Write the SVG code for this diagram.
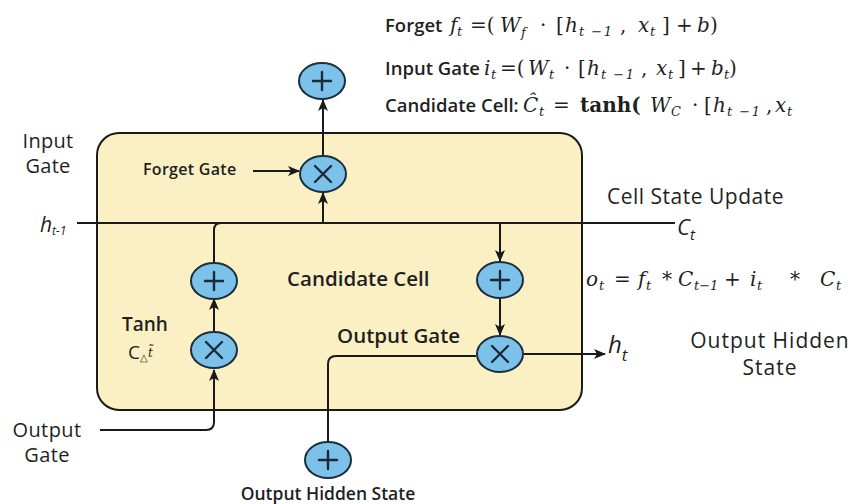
<svg xmlns="http://www.w3.org/2000/svg" width="862" height="504" viewBox="0 0 862 504">
  <defs>
    <marker id="arr" viewBox="0 0 12 10" refX="11" refY="5" markerWidth="12" markerHeight="10" markerUnits="userSpaceOnUse" orient="auto">
      <path d="M0,0 L12,5 L0,10 L3,5 Z" fill="#1a1a1a"/>
    </marker>
  </defs>
  <style>
    .lbl { font-family: "Open Sans", "Noto Sans", sans-serif; fill: #1f1f1f; }
    .sb { font-weight: 600; }
    .ital { font-family: "Open Sans", "Noto Sans", sans-serif; font-style: italic; fill: #1f1f1f; }
    .math { font-family: "DejaVu Serif", "Liberation Serif", serif; font-size: 20px; fill: #1f1f1f; }
    .it { font-style: italic; }
    .sub { font-size: 13px; font-style: italic; }
    .wire { fill: none; stroke: #1a1a1a; stroke-width: 2; }
    .op { fill: #7cc1ea; stroke: #1c2f3c; stroke-width: 2; }
    .sym { fill: none; stroke: #1a2a36; stroke-width: 2.4; stroke-linecap: round; }
  </style>

  <rect width="862" height="504" fill="#ffffff"/>

  <!-- LSTM cell body -->
  <g id="cell">
    <rect x="97" y="133" width="485" height="277" rx="22" fill="#fbf0c3" stroke="#1a1a1a" stroke-width="2"/>
  </g>

  <!-- connectors -->
  <g id="connectors">
    <!-- cell state / hidden line -->
    <path class="wire" d="M77,223 H675"/>
    <!-- forget product up to top sum -->
    <path class="wire" d="M323,156 V100" marker-end="url(#arr)"/>
    <!-- line into forget product from below -->
    <path class="wire" d="M323,223 V193" marker-end="url(#arr)"/>
    <!-- forget gate input arrow -->
    <path class="wire" d="M253,171 H299" marker-end="url(#arr)"/>
    <!-- left column: sum joins the line -->
    <path class="wire" d="M214,262 V230 Q214,223 221,223"/>
    <!-- tanh product to sum -->
    <path class="wire" d="M214,332 V299" marker-end="url(#arr)"/>
    <!-- output gate input from left -->
    <path class="wire" d="M100,430 H206 Q214,430 214,422 V370" marker-end="url(#arr)"/>
    <!-- right column -->
    <path class="wire" d="M500,223 V261" marker-end="url(#arr)"/>
    <path class="wire" d="M500,299 V335" marker-end="url(#arr)"/>
    <!-- bottom sum up and into output product -->
    <path class="wire" d="M328,442 V364 Q328,356 336,356 H476"/>
    <!-- output product to h_t -->
    <path class="wire" d="M524,354 H605" marker-end="url(#arr)"/>
  </g>

  <!-- operation nodes -->
  <g id="sum-top">
    <ellipse class="op" cx="322" cy="81" rx="23" ry="18"/>
    <path class="sym" d="M313,81 H331 M322,72 V90"/>
  </g>
  <g id="mul-forget">
    <ellipse class="op" cx="323" cy="174" rx="23" ry="18"/>
    <path class="sym" d="M315,166 L331,182 M331,166 L315,182"/>
  </g>
  <g id="sum-left">
    <ellipse class="op" cx="214" cy="281" rx="23" ry="18"/>
    <path class="sym" d="M205,281 H223 M214,272 V290"/>
  </g>
  <g id="mul-tanh">
    <ellipse class="op" cx="214" cy="350" rx="23" ry="18"/>
    <path class="sym" d="M206,342 L222,358 M222,342 L206,358"/>
  </g>
  <g id="sum-right">
    <ellipse class="op" cx="500" cy="280" rx="23" ry="18"/>
    <path class="sym" d="M491,280 H509 M500,271 V289"/>
  </g>
  <g id="mul-output">
    <ellipse class="op" cx="500" cy="354" rx="23" ry="18"/>
    <path class="sym" d="M492,346 L508,362 M508,346 L492,362"/>
  </g>
  <g id="sum-bottom">
    <ellipse class="op" cx="328" cy="460" rx="23" ry="18"/>
    <path class="sym" d="M319,460 H337 M328,451 V469"/>
  </g>

  <!-- labels inside the cell -->
  <g id="label-forget-gate">
    <text class="lbl sb" x="143" y="175" font-size="16" letter-spacing="0.3">Forget Gate</text>
  </g>
  <g id="label-candidate">
    <text class="lbl sb" x="287" y="286" font-size="20.5">Candidate Cell</text>
  </g>
  <g id="label-output-gate-inner">
    <text class="lbl sb" x="337" y="343" font-size="20.5">Output Gate</text>
  </g>
  <g id="label-tanh">
    <text class="lbl sb" x="122" y="331" font-size="19">Tanh</text>
    <text class="lbl" x="128" y="359" font-size="19" fill="#4a4a4a">C<tspan font-size="10" dy="2">△</tspan><tspan font-family="DejaVu Serif, serif" font-style="italic" font-size="12" dy="-4">t̃</tspan></text>
  </g>

  <!-- labels outside the cell -->
  <g id="label-input-gate">
    <text class="lbl" x="48" y="148" font-size="20" letter-spacing="0.3" text-anchor="middle">Input</text>
    <text class="lbl" x="48" y="173" font-size="20" letter-spacing="0.3" text-anchor="middle">Gate</text>
  </g>
  <g id="label-h-prev">
    <text class="ital" x="40" y="232" font-size="21">h<tspan font-size="12" dy="3">t-1</tspan></text>
  </g>
  <g id="label-output-gate">
    <text class="lbl" x="47" y="437" font-size="20" letter-spacing="0.4" text-anchor="middle">Output</text>
    <text class="lbl" x="47" y="462" font-size="20" letter-spacing="0.4" text-anchor="middle">Gate</text>
  </g>
  <g id="label-bottom">
    <text class="lbl sb" x="328" y="500" font-size="17.5" text-anchor="middle">Output Hidden State</text>
  </g>
  <g id="label-cell-state">
    <text class="lbl" x="607" y="204" font-size="21" letter-spacing="0.5">Cell State Update</text>
    <text class="ital" x="677" y="235" font-size="22">C<tspan font-size="15" dy="5">t</tspan></text>
  </g>
  <g id="label-ot">
    <text class="math">
      <tspan class="it" x="586" y="286">o</tspan><tspan class="sub" x="599" y="290">t</tspan>
      <tspan x="614" y="286">=</tspan>
      <tspan class="it" x="638" y="286">f</tspan><tspan class="sub" x="646" y="290">t</tspan>
      <tspan x="662" y="286">*</tspan>
      <tspan class="it" x="678" y="286">C</tspan><tspan class="sub" x="694" y="290">t−1</tspan>
      <tspan x="724" y="286">+</tspan>
      <tspan class="it" x="750" y="286">i</tspan><tspan class="sub" x="757" y="290">t</tspan>
      <tspan x="790" y="286">*</tspan>
      <tspan class="it" x="820" y="286">C</tspan><tspan class="sub" x="836" y="290">t</tspan>
    </text>
  </g>
  <g id="label-ht">
    <text class="ital" x="608" y="353" font-size="24">h<tspan font-size="17" dy="8">t</tspan></text>
  </g>
  <g id="label-output-hidden">
    <text class="lbl" x="770" y="348" font-size="21" letter-spacing="1" text-anchor="middle">Output Hidden</text>
    <text class="lbl" x="770" y="375" font-size="21" letter-spacing="1" text-anchor="middle">State</text>
  </g>

  <!-- gate equations -->
  <g id="equations">
    <text class="math">
      <tspan class="lbl sb" font-size="18.5" x="385" y="32">Forget</tspan>
      <tspan class="it" x="450" y="32">f</tspan><tspan class="sub" x="457" y="36">t</tspan>
      <tspan x="470" y="32">=(</tspan>
      <tspan class="it" x="500" y="32">W</tspan><tspan class="sub" x="521" y="37">f</tspan>
      <tspan x="540" y="32">·</tspan>
      <tspan x="556" y="32">[</tspan>
      <tspan class="it" x="565" y="32">h</tspan><tspan class="sub" x="579" y="36" letter-spacing="1.5">t −1</tspan>
      <tspan x="620" y="32">,</tspan>
      <tspan class="it" x="638" y="32">x</tspan><tspan class="sub" x="650" y="36">t</tspan>
      <tspan x="662" y="32">]</tspan>
      <tspan x="676" y="32">+</tspan>
      <tspan class="it" x="697" y="32">b</tspan>
      <tspan x="710" y="32">)</tspan>
    </text>
    <text class="math">
      <tspan class="lbl sb" font-size="18.5" x="385" y="75">Input Gate</tspan>
      <tspan class="it" x="484" y="75">i</tspan><tspan class="sub" x="491" y="79">t</tspan>
      <tspan x="500" y="75">=(</tspan>
      <tspan class="it" x="528" y="75">W</tspan><tspan class="sub" x="549" y="79">t</tspan>
      <tspan x="564" y="75">·</tspan>
      <tspan x="578" y="75">[</tspan>
      <tspan class="it" x="587" y="75">h</tspan><tspan class="sub" x="601" y="79" letter-spacing="1.5">t −1</tspan>
      <tspan x="641" y="75">,</tspan>
      <tspan class="it" x="656" y="75">x</tspan><tspan class="sub" x="668" y="79">t</tspan>
      <tspan x="678" y="75">]</tspan>
      <tspan x="690" y="75">+</tspan>
      <tspan class="it" x="711" y="75">b</tspan><tspan class="sub" x="724" y="79">t</tspan>
      <tspan x="729" y="75">)</tspan>
    </text>
    <text class="math">
      <tspan class="lbl sb" font-size="18.5" x="385" y="112">Candidate Cell:</tspan>
      <tspan class="it" x="523" y="112">Ĉ</tspan><tspan class="sub" x="539" y="116">t</tspan>
      <tspan x="553" y="112">=</tspan>
      <tspan font-weight="bold" x="580" y="112">tanh(</tspan>
      <tspan class="it" x="650" y="112">W</tspan><tspan class="sub" x="671" y="116">C</tspan>
      <tspan x="692" y="112">·</tspan>
      <tspan x="704" y="112">[</tspan>
      <tspan class="it" x="713" y="112">h</tspan><tspan class="sub" x="727" y="116" letter-spacing="1.5">t −1</tspan>
      <tspan x="766" y="112">,</tspan>
      <tspan class="it" x="775" y="112">x</tspan><tspan class="sub" x="787" y="116">t</tspan>
    </text>
  </g>
</svg>
